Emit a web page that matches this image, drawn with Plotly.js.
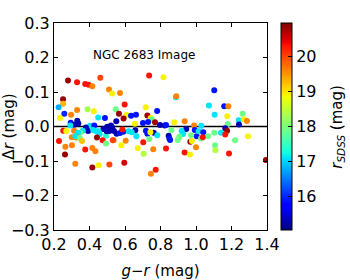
<!DOCTYPE html>
<html>
<head>
<meta charset="utf-8">
<script src="https://cdn.plot.ly/plotly-3.0.1.min.js"></script>
<style>html,body{margin:0;padding:0;background:#fff}#chart{width:350px;height:280px}</style>
</head>
<body>
<div id="chart"></div>
<script>
// g-r colour (mag)
var gr = [
0.279,0.330,0.376,0.395,0.416,0.461,0.510,0.527,0.572,0.736,0.817,0.251,0.251,0.226,0.258,0.234,0.296,0.330,0.389,0.424,
0.449,0.487,0.598,0.717,0.548,0.566,0.608,0.634,0.662,0.592,0.726,0.781,0.745,0.752,0.769,0.551,0.656,0.701,0.730,0.797,
0.824,0.521,0.527,0.538,0.553,0.572,0.590,0.585,0.658,0.621,0.638,0.718,0.726,0.762,0.743,0.782,0.664,0.737,0.536,0.604,
0.846,0.703,0.579,0.672,0.759,0.831,0.705,0.596,0.773,0.746,0.294,0.331,0.337,0.313,0.292,0.403,0.380,0.392,0.427,0.478,
0.500,0.421,0.437,0.252,0.269,0.313,0.362,0.348,0.335,0.450,0.457,0.493,0.497,0.512,0.442,0.300,0.326,0.320,0.346,0.358,
0.228,0.474,0.493,0.531,0.264,0.301,0.376,0.416,0.433,0.262,0.320,0.416,0.452,0.512,1.103,0.887,0.889,1.073,1.105,0.878,
0.936,0.989,1.030,0.945,0.861,0.831,0.850,0.854,0.919,0.927,0.993,1.004,0.972,1.015,1.041,1.068,1.103,1.141,0.906,0.897,
1.028,1.038,0.968,0.977,1.000,1.107,1.109,0.936,0.966,1.159,1.182,1.176,1.263,1.241,1.269,1.287,1.179,1.242,1.165,1.175,
1.165,1.293,1.220,1.186,1.394
];
// delta r (mag)
var dr = [
0.133,0.128,0.123,0.121,0.117,0.141,0.107,0.096,0.097,0.148,0.143,0.079,0.066,0.056,0.037,0.025,0.034,0.048,0.050,0.044,
0.026,0.025,0.064,0.056,0.050,0.037,0.033,0.031,0.034,0.023,0.032,0.045,0.025,0.020,0.012,0.015,0.008,0.010,0.013,0.004,
0.003,0.003,-0.002,-0.013,-0.021,-0.019,-0.015,-0.009,-0.011,-0.014,-0.017,-0.012,-0.021,-0.018,-0.017,-0.025,-0.028,-0.036,-0.040,-0.041,
-0.027,-0.046,-0.054,-0.063,-0.066,-0.064,-0.079,-0.105,-0.125,-0.137,0.011,0.017,0.009,0.005,0.003,0.002,-0.003,-0.013,0.003,-0.007,
-0.001,-0.010,-0.014,-0.012,-0.013,-0.012,-0.012,-0.018,-0.018,-0.014,-0.022,-0.027,-0.014,-0.013,-0.032,-0.031,-0.032,-0.028,-0.034,-0.042,
-0.042,-0.040,-0.049,-0.040,-0.059,-0.054,-0.067,-0.062,-0.072,-0.081,-0.108,-0.119,-0.112,-0.110,0.105,0.085,0.088,0.061,0.034,0.012,
0.015,0.003,0.002,-0.007,-0.010,0.004,-0.035,-0.039,-0.013,-0.022,-0.010,-0.028,-0.025,-0.014,-0.017,-0.028,-0.018,-0.018,-0.030,-0.039,
-0.035,-0.031,-0.044,-0.042,-0.060,-0.054,-0.069,-0.075,-0.081,0.059,0.059,0.030,0.037,0.018,0.021,0.016,0.007,0.006,-0.005,-0.012,
-0.023,-0.028,-0.040,-0.078,-0.097
];
// r_SDSS (mag)
var rSDSS = [
20.8,20.3,20.3,20.3,19.6,20.0,19.6,18.9,19.6,20.3,18.9,20.8,19.3,16.8,16.0,18.9,19.6,19.6,18.3,18.9,
17.1,15.9,20.3,18.9,17.9,20.8,18.9,15.9,15.9,20.8,20.8,15.9,18.9,17.9,20.8,15.3,18.9,15.9,15.9,15.3,
15.3,15.3,15.3,15.3,15.3,15.9,15.9,20.3,15.3,17.1,17.1,15.9,15.9,15.3,18.9,17.1,17.1,17.9,19.6,19.6,
15.3,20.3,18.9,18.9,19.6,20.3,18.4,20.5,20.3,19.6,15.9,15.3,15.3,15.3,17.1,17.1,15.3,15.3,15.9,15.3,
15.3,17.1,17.1,20.3,18.9,19.6,17.1,17.9,17.1,17.1,17.1,17.4,15.3,15.3,20.8,19.6,19.6,17.1,17.9,19.2,
20.3,20.3,17.9,20.0,19.6,19.6,20.3,19.6,19.6,20.8,19.6,20.8,18.9,20.0,15.9,17.1,19.6,17.1,17.1,18.9,
19.6,19.6,17.1,15.3,17.9,15.9,15.9,15.9,17.1,17.1,15.9,15.9,17.9,17.1,15.9,17.9,17.9,17.1,17.9,17.9,
17.9,20.3,20.8,18.9,19.6,17.9,18.4,20.3,18.9,15.9,19.6,18.9,17.9,17.1,18.9,19.6,17.9,15.3,15.3,20.8,
20.3,18.9,17.9,20.3,20.8
];
var xTicks = [0.2,0.4,0.6,0.8,1.0,1.2,1.4];
var xTickText = ['0.2','0.4','0.6','0.8','1.0','1.2','1.4'];
var yTicks = [-0.3,-0.2,-0.1,0.0,0.1,0.2,0.3];
var yTickText = ['\u22120.3','\u22120.2','\u22120.1','0.0','0.1','0.2','0.3'];
var cbTicks = [16,17,18,19,20];

var jet = [[0,'rgb(0,0,128)'],[0.11,'rgb(0,0,255)'],[0.125,'rgb(0,0,255)'],[0.34,'rgb(0,219,255)'],
 [0.35,'rgb(0,230,247)'],[0.375,'rgb(21,255,226)'],[0.64,'rgb(239,255,8)'],[0.65,'rgb(247,246,0)'],
 [0.66,'rgb(255,236,0)'],[0.89,'rgb(255,19,0)'],[0.91,'rgb(232,0,0)'],[1,'rgb(128,0,0)']];

var FONT = 'DejaVu Sans';
var trace = {
  type:'scatter', mode:'markers', x:gr, y:dr,
  marker:{size:6, color:rSDSS, colorscale:jet, cmin:15.05, cmax:20.95, line:{width:0},
    colorbar:{x:1.066, xanchor:'left', xpad:0, ypad:0, y:0.5, yanchor:'middle', len:1, lenmode:'fraction',
      thickness:11, outlinewidth:1, outlinecolor:'#000', tickvals:cbTicks, ticks:'inside', ticklen:4,
      tickcolor:'#000', tickfont:{family:FONT, size:16, color:'#000'}}},
  hoverinfo:'skip', showlegend:false
};
var layout = {
  width:350, height:280, margin:{l:54, r:83, t:23, b:50, autoexpand:false},
  paper_bgcolor:'#fff', plot_bgcolor:'#fff',
  font:{family:FONT, color:'#000'},
  xaxis:{range:[0.2,1.4], tickvals:xTicks, ticktext:xTickText, ticks:'inside', ticklen:4, tickcolor:'#000',
    showgrid:false, zeroline:false, showline:true, linecolor:'#000', linewidth:1, mirror:'allticks',
    tickfont:{family:FONT, size:16}, title:{text:'<i>g</i>\u2212<i>r</i> (mag)', font:{family:FONT, size:15}}},
  yaxis:{range:[-0.3,0.3], tickvals:yTicks, ticktext:yTickText, ticks:'inside', ticklen:4, tickcolor:'#000',
    showgrid:false, zeroline:false, showline:true, linecolor:'#000', linewidth:1, mirror:'allticks',
    tickfont:{family:FONT, size:16}, title:{text:'\u0394<i>r</i> (mag)', font:{family:FONT, size:15}}},
  shapes:[{type:'line', xref:'paper', x0:0, x1:1, yref:'y', y0:0, y1:0, line:{color:'#000', width:1.5}, layer:'below'}],
  annotations:[
    {text:'NGC 2683 Image', xref:'x', yref:'y', x:0.41, y:0.19, xanchor:'left', yanchor:'bottom', yshift:-3,
     showarrow:false, font:{family:FONT, size:12}},
    {text:'<i>r<sub>SDSS</sub></i> (mag)', xref:'paper', yref:'paper', x:1.33, y:0.5, xanchor:'center', yanchor:'middle',
     textangle:-90, showarrow:false, font:{family:FONT, size:15}}
  ]
};
Plotly.newPlot('chart', [trace], layout, {staticPlot:true, displayModeBar:false});
</script>
</body>
</html>
